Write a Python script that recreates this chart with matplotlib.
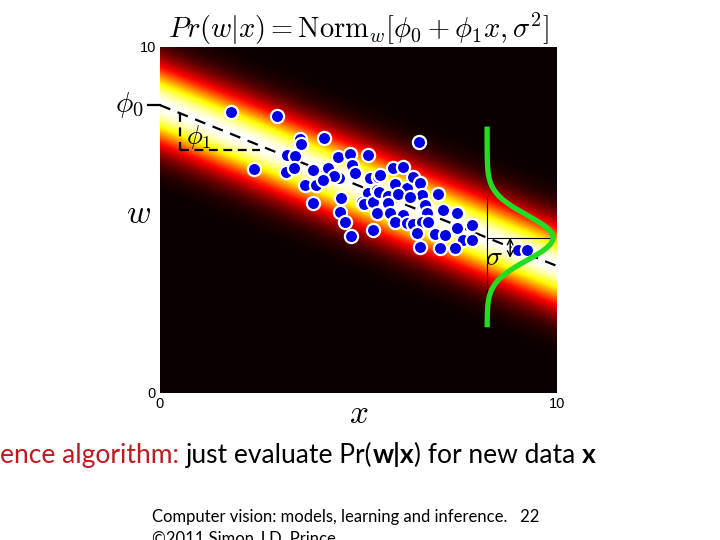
import matplotlib
matplotlib.use('Agg')
import matplotlib.pyplot as plt
import numpy as np

plt.rcParams['mathtext.fontset'] = 'cm'

# model parameters
phi0 = 8.32
phi1 = -0.465
sigma = 0.65
sigma_img = 0.8     # spread of the background heat image

# training points (x, w)
xs = [1.79, 2.95, 3.53, 3.55, 4.13, 2.37, 3.20, 3.40, 3.17, 3.38,
      3.85, 3.65, 3.93, 3.85, 4.23, 4.48, 4.79, 5.24, 4.84, 4.91,
      4.51, 4.38, 4.11, 4.56, 4.53, 4.66, 4.81, 5.09, 5.24, 5.14,
      5.37, 5.37, 5.47, 5.29, 5.49, 6.52, 5.87, 6.12, 5.54, 5.92,
      6.22, 6.37, 6.55, 6.60, 7.00, 5.52, 5.74, 5.99, 5.74, 6.30,
      5.47, 5.79, 6.12, 6.68, 6.73, 7.13, 7.48, 5.92, 6.22, 6.37,
      6.60, 6.75, 6.47, 6.93, 7.18, 7.48, 7.86, 7.63, 7.86, 6.55,
      7.05, 7.43, 9.02, 9.24]
ws = [8.12, 8.01, 7.34, 7.20, 7.37, 6.47, 6.88, 6.85, 6.39, 6.50,
      6.45, 6.01, 6.01, 5.49, 6.50, 6.82, 6.91, 6.88, 6.59, 6.36,
      6.21, 6.27, 6.16, 5.64, 5.23, 4.94, 4.54, 5.52, 5.78, 5.46,
      5.52, 4.71, 5.87, 6.21, 6.24, 7.25, 6.50, 6.53, 6.30, 6.04,
      5.92, 6.24, 6.07, 5.72, 5.75, 5.81, 5.69, 5.75, 5.49, 5.66,
      5.20, 5.20, 5.14, 5.43, 5.20, 5.29, 5.20, 4.94, 4.91, 4.88,
      4.94, 4.94, 4.62, 4.60, 4.57, 4.77, 4.86, 4.42, 4.42, 4.22,
      4.19, 4.19, 4.13, 4.13]

x_probe = 8.24      # where the green gaussian is drawn
curve_amp = 1.66

fig = plt.figure(figsize=(7.2, 5.4), dpi=100)
ax = fig.add_axes([160/720, 1-393/540, 397/720, 346/540])

gx = np.linspace(0, 10, 500)
gw = np.linspace(0, 10, 500)
X, W = np.meshgrid(gx, gw)
P = np.exp(-(W - (phi0 + phi1*X))**2 / (2*sigma_img**2))
ax.imshow(P, extent=[0, 10, 0, 10], origin='lower', cmap='hot',
          aspect='auto', vmin=0, vmax=1, interpolation='bilinear')

# regression line
lx = np.array([0, 10])
ax.plot(lx, phi0 + phi1*lx, color='k', lw=1.6, dashes=(5, 3.5))
ax.plot([-0.3, 0], [phi0, phi0], color='k', lw=1.6, clip_on=False)

# phi1 triangle
ax.plot([0.5, 0.5], [phi0 + phi1*0.5, 7.02], color='k', lw=1.6, dashes=(4, 2.5))
ax.plot([0.5, 2.52], [7.02, 7.02], color='k', lw=1.6, dashes=(4, 2.5))

ax.scatter(xs, ws, s=90, c='#0000e6', edgecolors='white', linewidths=1.6, zorder=3)

# gaussian at x_probe
mu = phi0 + phi1*x_probe
cw = np.linspace(1.9, 7.7, 300)
ax.plot([x_probe, x_probe], [1.9, 5.66], color='k', lw=0.8, zorder=4)
ax.plot([x_probe, x_probe + curve_amp], [mu, mu], color='k', lw=0.8, zorder=4)
ax.plot(x_probe + curve_amp*np.exp(-(cw - mu)**2 / (2*sigma**2)), cw,
        color='#22dd22', lw=3.8, zorder=5, solid_capstyle='butt')
ax.annotate('', xy=(8.82, mu - 0.58), xytext=(8.82, mu),
            arrowprops=dict(arrowstyle='<->', color='k', lw=1, shrinkA=0, shrinkB=0),
            zorder=6)
ax.text(8.42, mu - 0.55, r'$\sigma$', fontsize=20, ha='center', va='center', zorder=6)

ax.text(-0.76, phi0, r'$\phi_0$', fontsize=21, ha='center', va='center')
ax.text(0.98, 7.40, r'$\phi_1$', fontsize=19, ha='center', va='center')

ax.set_xlim(0, 10)
ax.set_ylim(0, 10)
ax.set_xticks([0, 10])
ax.set_yticks([0, 10])
ax.tick_params(length=0, labelsize=10.5, pad=3)
for lab in ax.get_xticklabels() + ax.get_yticklabels():
    lab.set_family('Liberation Sans')
for s in ax.spines.values():
    s.set_visible(False)
ax.text(0.5, -0.06, r'$x$', fontsize=24, ha='center', va='center',
        transform=ax.transAxes)
ax.text(-0.055, 0.52, r'$w$', fontsize=24, ha='center', va='center',
        transform=ax.transAxes)
ax.set_title(r'$Pr(w|x) = \mathrm{Norm}_w[\phi_0 + \phi_1 x, \sigma^2]$',
             fontsize=20.5, pad=2)

# slide text below the chart
renderer = fig.canvas.get_renderer()
pieces = [('ence algorithm: ', '#c0191e', 'normal'),
          ('just evaluate Pr(', 'black', 'normal'),
          ('w|x', 'black', 'bold'),
          (') for new data ', 'black', 'normal'),
          ('x', 'black', 'bold')]
xpos = 0
for txt, col, wt in pieces:
    t = fig.text(xpos, 1-463/540, txt, color=col, fontweight=wt, fontsize=19,
                 family='Lato', va='baseline', ha='left')
    bb = t.get_window_extent(renderer)
    xpos += bb.width / 720

fig.text(152/720, 1-522/540, 'Computer vision: models, learning and inference.   22',
         fontsize=12, family='Lato', va='baseline')
fig.text(152/720, 1-544/540, '\u00a92011 Simon J.D. Prince',
         fontsize=12, family='Lato', va='baseline')

fig.savefig('out.png', dpi=100)
